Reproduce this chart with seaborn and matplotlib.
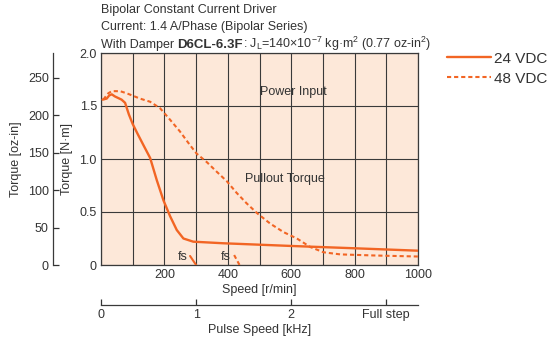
import numpy as np
import pandas as pd
import matplotlib.pyplot as plt
import seaborn as sns

# DATA
speed_24 = [5, 18, 26, 34, 44, 65, 76, 88, 100, 115, 134, 155, 176, 197, 218, 239, 260, 291, 386, 597, 807, 1000]
torque_24 = [1.56, 1.57, 1.60, 1.61, 1.59, 1.56, 1.53, 1.42, 1.33, 1.24, 1.13, 1.01, 0.80, 0.61, 0.46, 0.33, 0.25, 0.22, 0.205, 0.18, 0.157, 0.135]
speed_48 = [7, 23, 34, 60, 81, 123, 155, 186, 218, 249, 281, 302, 334, 365, 397, 428, 460, 492, 534, 576, 618, 660, 702, 755, 860, 1000]
torque_48 = [1.56, 1.62, 1.64, 1.64, 1.62, 1.57, 1.54, 1.48, 1.37, 1.26, 1.13, 1.05, 0.97, 0.88, 0.79, 0.68, 0.58, 0.49, 0.39, 0.31, 0.25, 0.17, 0.12, 0.10, 0.09, 0.08]
fs_24_speed = [281, 300]
fs_24_torque = [0.085, 0.0]
fs_48_speed = [420, 437]
fs_48_torque = [0.094, 0.0]
series_labels = ["24 VDC", "48 VDC"]
x_ticks = [0, 100, 200, 300, 400, 500, 600, 700, 800, 900, 1000]
x_ticklabels = ["", "", "200", "", "400", "", "600", "", "800", "", "1000"]
y_ticks = [0, 0.5, 1.0, 1.5, 2.0]
y_ticklabels = ["0", "0.5", "1.0", "1.5", "2.0"]
oz_ticks = [0, 50, 100, 150, 200, 250]
khz_ticks = [0, 1, 2, 3]
khz_ticklabels = ["0", "1", "2", "Full step"]

NM_TO_OZIN = 141.6
RPM_PER_KHZ = 300

sns.set_style("ticks")
plt.rcParams['font.family'] = ['Liberation Sans', 'DejaVu Sans']
plt.rcParams['mathtext.fontset'] = 'custom'
plt.rcParams['mathtext.rm'] = 'Liberation Sans'
plt.rcParams['mathtext.it'] = 'Liberation Sans'

orange = "#f26524"
txt = "#333333"
gridc = "#3a3a3a"
fs = 9
W, H = 549, 341

fig = plt.figure(figsize=(W / 100, H / 100), dpi=100)

# main torque axes
ax = fig.add_axes([101 / W, (H - 265) / H, 317 / W, 212 / H])
ax.set_facecolor("#fde8d9")

df24 = pd.DataFrame({"speed": speed_24, "torque": torque_24})
df48 = pd.DataFrame({"speed": speed_48, "torque": torque_48})
sns.lineplot(data=df24, x="speed", y="torque", ax=ax, color=orange, lw=1.7,
             label=series_labels[0], zorder=3)
sns.lineplot(data=df48, x="speed", y="torque", ax=ax, color=orange, lw=1.5,
             dashes=(2.0, 1.4), label=series_labels[1], zorder=3)
ax.plot(fs_24_speed, fs_24_torque, color=orange, lw=1.5, zorder=3)
ax.plot(fs_48_speed, fs_48_torque, color=orange, lw=1.5, dashes=(2.0, 1.4), zorder=3)

ax.set_xlim(0, 1000)
ax.set_ylim(0, 2.0)
ax.set_xticks(x_ticks)
ax.set_xticklabels(x_ticklabels)
ax.set_yticks(y_ticks)
ax.set_yticklabels(y_ticklabels)
ax.tick_params(length=0, labelsize=fs, colors=txt, pad=3)
ax.grid(True, color=gridc, lw=0.8, zorder=1)
ax.set_axisbelow(True)
for s in ax.spines.values():
    s.set_color(gridc)
    s.set_linewidth(0.9)
ax.set_xlabel("Speed [r/min]", fontsize=fs, color=txt, labelpad=2)
ax.set_ylabel("Torque [N·m]", fontsize=fs, color=txt, labelpad=5)
ax.legend_.remove()

ax.text(607, 1.63, "Power Input", ha="center", va="center", fontsize=fs, color=txt)
ax.text(581, 0.81, "Pullout Torque", ha="center", va="center", fontsize=fs, color=txt)
ax.text(258, 0.08, "fs", ha="center", va="center", fontsize=fs, color=txt)
ax.text(392, 0.08, "fs", ha="center", va="center", fontsize=fs, color=txt)

# oz-in axis on the far left
ax2 = fig.add_axes([53 / W, (H - 265) / H, 0.001, 212 / H])
ax2.set_ylim(0, 2.0 * NM_TO_OZIN)
ax2.set_yticks(oz_ticks)
ax2.set_xticks([])
for k in ["top", "right", "bottom"]:
    ax2.spines[k].set_visible(False)
ax2.spines["left"].set_color(gridc)
ax2.spines["left"].set_linewidth(0.9)
ax2.patch.set_visible(False)
ax2.tick_params(axis="y", direction="in", length=4, width=0.9, labelsize=fs,
                colors=txt, pad=3)
ax2.set_ylabel("Torque [oz-in]", fontsize=fs, color=txt, labelpad=4)

# pulse speed axis below
ax3 = fig.add_axes([101 / W, (H - 305) / H, 317 / W, 0.001])
ax3.set_xlim(0, 1000 / RPM_PER_KHZ)
ax3.set_xticks(khz_ticks)
ax3.set_xticklabels(khz_ticklabels)
ax3.set_yticks([])
for k in ["top", "right", "left"]:
    ax3.spines[k].set_visible(False)
ax3.spines["bottom"].set_color(gridc)
ax3.spines["bottom"].set_linewidth(0.9)
ax3.patch.set_visible(False)
ax3.tick_params(axis="x", direction="in", length=4, width=0.9, labelsize=fs,
                colors=txt, pad=3)
ax3.set_xlabel("Pulse Speed [kHz]", fontsize=fs, color=txt, labelpad=2)

# title block
fig.text(101 / W, 1 - 10 / H, "Bipolar Constant Current Driver", fontsize=fs,
         color=txt, va="center")
fig.text(101 / W, 1 - 27 / H, "Current: 1.4 A/Phase (Bipolar Series)", fontsize=fs,
         color=txt, va="center")
t1 = fig.text(101 / W, 1 - 48 / H, "With Damper ", fontsize=fs, color=txt, va="baseline")
fig.canvas.draw()
bb = t1.get_window_extent()
t2 = fig.text(bb.x1 / W, 1 - 48 / H, "D6CL-6.3F", fontsize=9.5, color=txt,
              fontweight="bold", va="baseline")
fig.canvas.draw()
bb2 = t2.get_window_extent()
fig.text(bb2.x1 / W, 1 - 48 / H,
         r": J$_\mathregular{L}$=140×10$^{\mathregular{-7}}$ kg·m$^\mathregular{2}$ (0.77 oz-in$^\mathregular{2}$)",
         fontsize=fs, color=txt, va="baseline")

# legend
handles, labels = ax.get_legend_handles_labels()
fig.legend(handles, labels, loc="upper left", bbox_to_anchor=(439 / W, 1 - 44 / H),
           frameon=False, fontsize=11, handlelength=2.9, handletextpad=0.2,
           labelspacing=0.4, labelcolor=txt, borderpad=0)

fig.savefig("out.png", dpi=100)
